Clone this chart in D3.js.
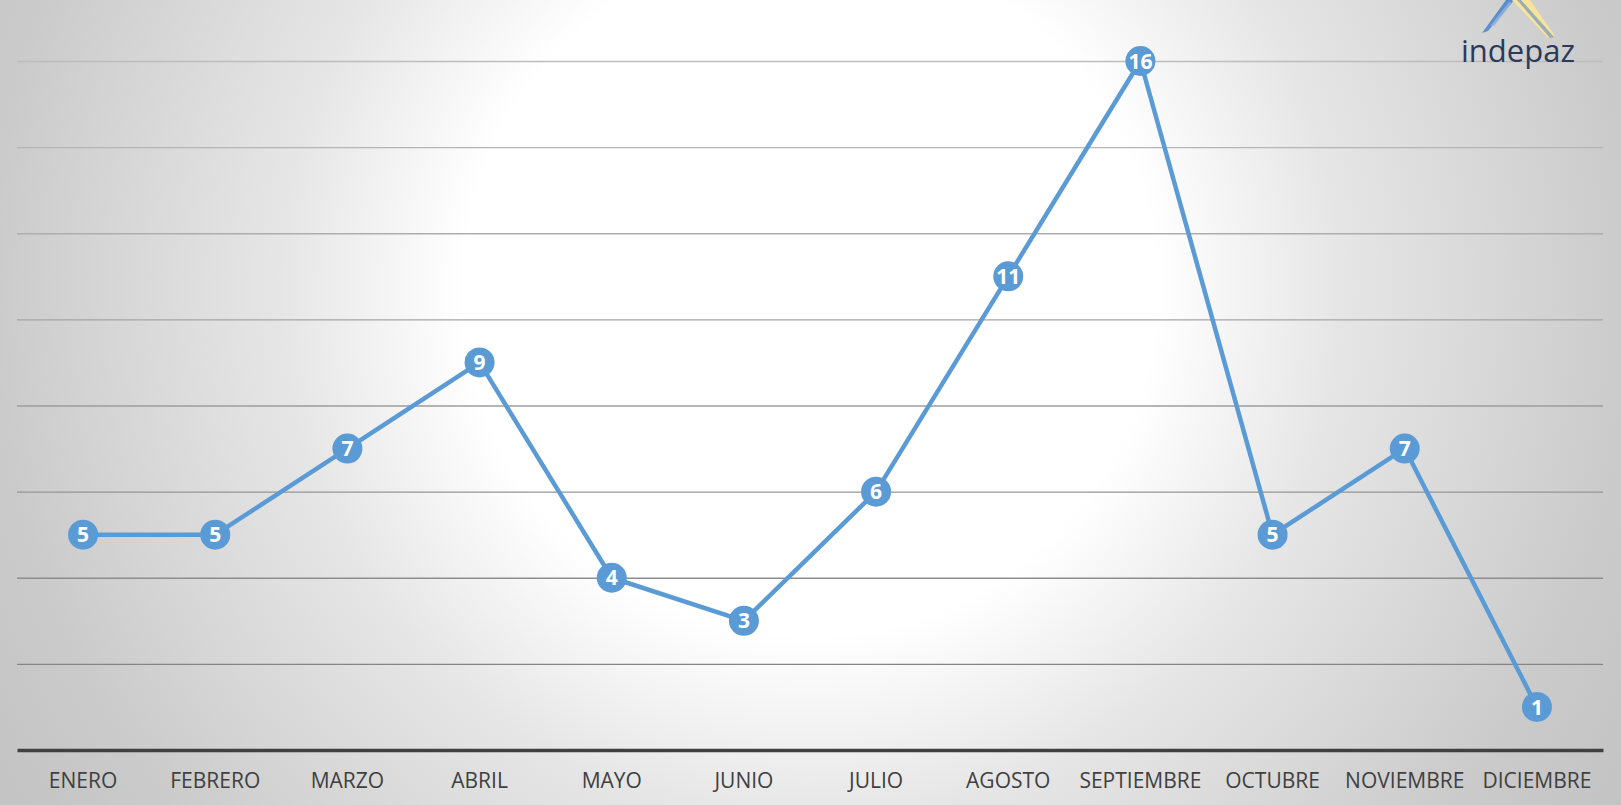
<!DOCTYPE html>
<html>
<head>
<meta charset="utf-8">
<script src="https://cdn.jsdelivr.net/npm/d3@7"></script>
<style>
  html, body { margin: 0; padding: 0; background: #fff; }
  svg { display: block; }
</style>
</head>
<body>
<svg id="chart" width="1621" height="805"></svg>
<script>
// ---- data ----
const months = ["ENERO","FEBRERO","MARZO","ABRIL","MAYO","JUNIO","JULIO","AGOSTO","SEPTIEMBRE","OCTUBRE","NOVIEMBRE","DICIEMBRE"];
const values = [5, 5, 7, 9, 4, 3, 6, 11, 16, 5, 7, 1];
const yTicks = [2, 4, 6, 8, 10, 12, 14, 16];
const yDomain = [0, 16];
const logoText = "indepaz";

(function () {
// ---- layout ----
const W = 1621, H = 805;
const mLeft = 17, mRight = 1603, mTop = 61, mBottom = 750;

const svg = d3.select("#chart");
const defs = svg.append("defs");

// background radial gradient
const rg = defs.append("radialGradient")
  .attr("id", "bg").attr("gradientUnits", "userSpaceOnUse")
  .attr("cx", 810).attr("cy", 290).attr("r", 960);
[[0, "#ffffff"], [0.36, "#ffffff"], [0.55, "#e6e6e6"], [0.85, "#cbcbcb"], [1, "#c3c3c3"]]
  .forEach(([o, c]) => rg.append("stop").attr("offset", o).attr("stop-color", c));
svg.append("rect").attr("width", W).attr("height", H).attr("fill", "url(#bg)");

// scales
const x = d3.scaleBand().domain(months).range([mLeft, mRight]).padding(0);
const y = d3.scaleLinear().domain(yDomain).range([mBottom, mTop]);
const cx = d => x(d) + x.bandwidth() / 2;

// gridlines
const gridColor = d3.scaleLinear().domain([yTicks[0], yTicks[yTicks.length - 1]]).range(["#858585", "#bdbdbd"]);
const grid = svg.append("g").attr("transform", `translate(${mLeft},0)`)
  .call(d3.axisLeft(y).tickValues(yTicks).tickSize(-(mRight - mLeft)).tickFormat(""));
grid.select(".domain").remove();
grid.selectAll(".tick line")
  .attr("stroke", d => gridColor(d))
  .attr("stroke-width", 1.4);

// logo
const logo = svg.append("g").attr("class", "logo");
logo.append("path")
  .attr("d", "M1482,33 L1506,0 L1514,0 L1488,31 Z")
  .attr("fill", "#4f86cc").attr("opacity", 0.9);
logo.append("path")
  .attr("d", "M1490,26 L1509,2 L1512,3 L1494,26 Z")
  .attr("fill", "#8fb3e0").attr("opacity", 0.8);
logo.append("path")
  .attr("d", "M1512,0 L1530,0 L1555,36 L1548,38 Z")
  .attr("fill", "#f8e39a");
logo.append("path")
  .attr("d", "M1517,0 L1521,0 L1554,37 L1550,38 Z")
  .attr("fill", "#6f95c8").attr("opacity", 0.7);
logo.append("text")
  .attr("x", 1518).attr("y", 62)
  .attr("text-anchor", "middle")
  .attr("font-family", "'Open Sans', sans-serif")
  .attr("font-size", 31)
  .attr("fill", "#2b3a5a")
  .text(logoText);

// x axis
const xAxis = svg.append("g").attr("transform", `translate(0,${mBottom})`)
  .call(d3.axisBottom(x).tickSize(0).tickSizeOuter(0).tickPadding(27));
xAxis.select(".domain").attr("stroke", "#404040").attr("stroke-width", 3.5);
xAxis.selectAll(".tick text")
  .attr("font-family", "'Open Sans', sans-serif")
  .attr("font-size", 21)
  .attr("fill", "#404040")
  .attr("dy", "0.5em");

// line
const series = months.map((m, i) => ({ m, v: values[i] }));
svg.append("path")
  .datum(series)
  .attr("fill", "none")
  .attr("stroke", "#5b9bd5")
  .attr("stroke-width", 4.5)
  .attr("stroke-linejoin", "round")
  .attr("stroke-linecap", "round")
  .attr("d", d3.line().x(d => cx(d.m)).y(d => y(d.v)));

// markers + labels
const pts = svg.append("g").selectAll("g").data(series).join("g")
  .attr("transform", d => `translate(${cx(d.m)},${y(d.v)})`);
pts.append("circle").attr("r", 15).attr("fill", "#5b9bd5");
pts.append("text")
  .attr("text-anchor", "middle")
  .attr("dy", "0.36em")
  .attr("font-family", "'Open Sans', sans-serif")
  .attr("font-weight", "bold")
  .attr("font-size", 21)
  .attr("fill", "#ffffff")
  .text(d => d.v);
})();
</script>
</body>
</html>
